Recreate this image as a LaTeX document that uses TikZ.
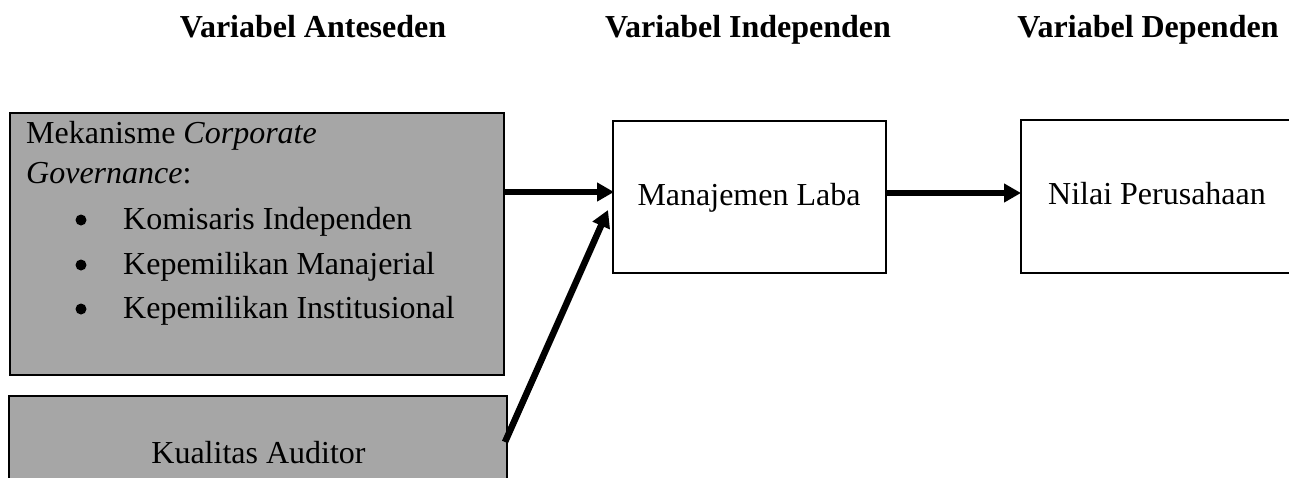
\documentclass[tikz,border=0pt]{standalone}
\usepackage{fontspec}
\setmainfont{Liberation Serif}
\usetikzlibrary{arrows.meta}
\definecolor{boxgray}{RGB}{166,166,166}
\tikzset{
  gbox/.style={draw=black, line width=2pt, fill=boxgray, rectangle, inner sep=0pt},
  wbox/.style={draw=black, line width=2pt, fill=white, rectangle, inner sep=0pt},
  txt/.style={inner sep=0pt, anchor=base west, font=\fontsize{32}{38}\selectfont},
  ctxt/.style={txt, anchor=base},
  bul/.style={circle, fill=black, inner sep=0pt, minimum size=11pt},
  head/.style={inner sep=0pt, anchor=base, font=\fontsize{32}{38}\selectfont\bfseries},
  arr/.style={line width=6.5pt, -{Triangle[length=17pt,width=18pt]}}
}
\begin{document}
\begin{tikzpicture}[x=1pt,y=-1pt]
\useasboundingbox (0,0) rectangle (1289,477);
% headers
\node[head] (h1) at (313,37) {Variabel Anteseden};
\node[head] (h2) at (748,37) {Variabel Independen};
\node[head] (h3) at (1148,37) {Variabel Dependen};
% left boxes
\node[gbox, minimum width=494pt, minimum height=262pt] (cg) at (257,244) {};
\node[txt] (t1) at (26,143) {Mekanisme \textit{Corporate}};
\node[txt] (t2) at (26,183) {\textit{Governance}:};
\node[bul] (b1) at (81,220) {};
\node[txt] (l1) at (123,229) {Komisaris Independen};
\node[bul] (b2) at (81,265) {};
\node[txt] (l2) at (123,274) {Kepemilikan Manajerial};
\node[bul] (b3) at (81,309) {};
\node[txt] (l3) at (123,318) {Kepemilikan Institusional};
\node[gbox, minimum width=498pt, minimum height=120pt] (ka) at (258,456) {};
\node[ctxt] (kat) at (258.5,463) {Kualitas Auditor};
% right boxes
\node[wbox, minimum width=273pt, minimum height=152pt] (ml) at (749.5,197) {};
\node[ctxt] (mlt) at (749,205) {Manajemen Laba};
\node[wbox, minimum width=290pt, minimum height=153pt] (np) at (1166,196.5) {};
\node[ctxt] (npt) at (1157,204) {Nilai Perusahaan};
% arrows
\draw[arr] ([yshift=52pt]cg.east) -- ([xshift=2pt,yshift=5pt]ml.west);
\draw[arr] ([xshift=-3pt,yshift=14pt]ka.east) -- ([xshift=-4pt,yshift=-13pt]ml.west);
\draw[arr] ([yshift=4pt]ml.east) -- ([xshift=1pt,yshift=3.5pt]np.west);
\end{tikzpicture}
\end{document}
